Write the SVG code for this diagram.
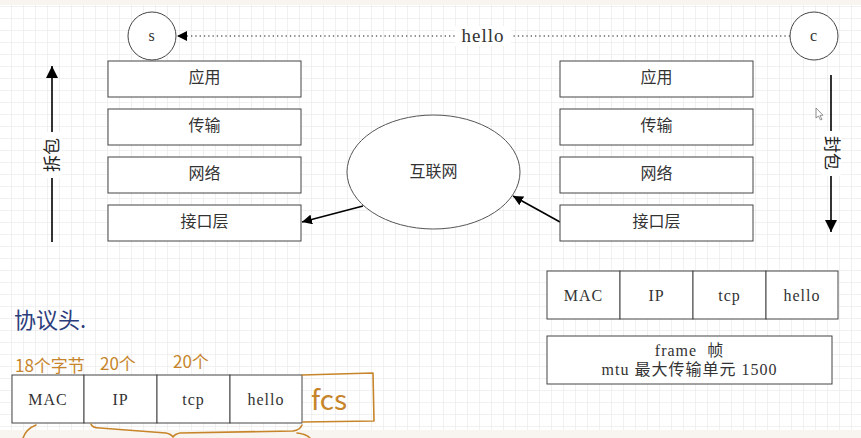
<svg xmlns="http://www.w3.org/2000/svg" width="861" height="438" viewBox="0 0 861 438">
<defs>
  <pattern id="grid" x="11" y="6" width="12" height="12" patternUnits="userSpaceOnUse">
    <path d="M0 0H12M0 0V12" fill="none" stroke="#e3e3e3" stroke-width="1"/>
  </pattern>
  <marker id="arr" viewBox="0 0 10 10" refX="10" refY="5" markerWidth="10" markerHeight="10" markerUnits="userSpaceOnUse" orient="auto">
    <path d="M0 0L10 5L0 10Z" fill="#000"/>
  </marker>
  <marker id="arrBig" viewBox="0 0 10 10" refX="10" refY="5" markerWidth="14" markerHeight="12" markerUnits="userSpaceOnUse" orient="auto">
    <path d="M0 0L10 5L0 10Z" fill="#000"/>
  </marker>
</defs>
<style>
  .box{fill:#fff;stroke:#444;stroke-width:1}
  .t{font-family:"Liberation Serif","Noto Sans CJK SC",serif;font-size:16px;fill:#333;text-anchor:middle;dominant-baseline:central}
  .s{font-family:"Liberation Serif","Noto Sans CJK SC",serif;font-size:16px;fill:#333;text-anchor:middle;dominant-baseline:central;letter-spacing:1px}
  .hand{font-family:"Noto Sans CJK SC",sans-serif;fill:#c7852b}
  .brace{fill:none;stroke:#c7852b;stroke-width:1.6;stroke-linecap:round;stroke-linejoin:round}
  .conn{stroke:#000;stroke-width:1.6;fill:none}
</style>
<rect width="861" height="438" fill="#fff"/>
<rect width="861" height="438" fill="url(#grid)"/>
<rect width="861" height="5" fill="#f8f5f0"/>
<rect y="430" width="861" height="8" fill="#f8f5f0"/>

<g id="connectors">
  <line x1="790" y1="36" x2="177" y2="36" stroke="#666" stroke-width="1.3" stroke-dasharray="1.3 3" marker-end="url(#arr)"/>
  <rect x="455" y="26" width="56" height="20" fill="#fff"/>
  <text class="s" x="483" y="35" style="font-size:19px">hello</text>
  <line class="conn" x1="363" y1="206" x2="302" y2="222" marker-end="url(#arr)"/>
  <line class="conn" x1="560" y1="222" x2="513" y2="196" marker-end="url(#arr)"/>
  <line class="conn" x1="52" y1="242" x2="52" y2="66" marker-end="url(#arrBig)"/>
  <rect x="42" y="132" width="20" height="46" fill="#fff"/>
  <text class="t" transform="translate(52 155) rotate(-90)" style="font-size:17px;fill:#222">拆包</text>
  <line class="conn" x1="831" y1="75" x2="831" y2="232" marker-end="url(#arrBig)"/>
  <rect x="821" y="131" width="20" height="45" fill="#fff"/>
  <text class="t" transform="translate(831 153) rotate(90)" style="font-size:17px;fill:#222">封包</text>
</g>

<g id="node-s"><circle cx="152" cy="36" r="24" class="box"/><text class="s" x="152" y="35">s</text></g>
<g id="node-c"><circle cx="814" cy="36" r="24" class="box"/><text class="s" x="814" y="35">c</text></g>

<g id="s-app"><rect x="108" y="61" width="193" height="36" class="box"/><text class="t" x="204.5" y="77.5">应用</text></g>
<g id="s-trans"><rect x="108" y="109" width="193" height="36" class="box"/><text class="t" x="204.5" y="125.5">传输</text></g>
<g id="s-net"><rect x="108" y="157" width="193" height="36" class="box"/><text class="t" x="204.5" y="173.5">网络</text></g>
<g id="s-if"><rect x="108" y="205" width="193" height="36" class="box"/><text class="t" x="204.5" y="221.5">接口层</text></g>

<g id="c-app"><rect x="560" y="61" width="193" height="36" class="box"/><text class="t" x="656.5" y="77.5">应用</text></g>
<g id="c-trans"><rect x="560" y="109" width="193" height="36" class="box"/><text class="t" x="656.5" y="125.5">传输</text></g>
<g id="c-net"><rect x="560" y="157" width="193" height="36" class="box"/><text class="t" x="656.5" y="173.5">网络</text></g>
<g id="c-if"><rect x="560" y="205" width="193" height="36" class="box"/><text class="t" x="656.5" y="221.5">接口层</text></g>

<g id="internet"><ellipse cx="433.5" cy="172" rx="86.5" ry="57" class="box" style="stroke:#555"/><text class="t" x="433.5" y="171">互联网</text></g>

<g id="pkt-right">
  <rect x="547" y="271" width="73" height="48" class="box"/><text class="s" x="583.5" y="295">MAC</text>
  <rect x="620" y="271" width="73" height="48" class="box"/><text class="s" x="656.5" y="295">IP</text>
  <rect x="693" y="271" width="73" height="48" class="box"/><text class="s" x="729.5" y="295">tcp</text>
  <rect x="766" y="271" width="72" height="48" class="box"/><text class="s" x="802" y="295">hello</text>
</g>

<g id="frame">
  <rect x="547" y="336" width="285" height="48" class="box"/>
  <text class="t" x="689.5" y="350" xml:space="preserve" style="letter-spacing:1px">frame  帧</text>
  <text class="t" x="689.5" y="369" style="letter-spacing:1px">mtu 最大传输单元 1500</text>
</g>

<g id="pkt-left">
  <rect x="12" y="375" width="72" height="48" class="box"/><text class="s" x="48" y="399">MAC</text>
  <rect x="84" y="375" width="73" height="48" class="box"/><text class="s" x="120.5" y="399">IP</text>
  <rect x="157" y="375" width="73" height="48" class="box"/><text class="s" x="193.5" y="399">tcp</text>
  <rect x="230" y="375" width="72" height="48" class="box"/><text class="s" x="266" y="399">hello</text>
</g>

<g id="annotations">
  <text x="14" y="328" style="font-family:'Noto Sans CJK SC',sans-serif;font-size:22px;fill:#2b3c7c">协议头.</text>
  <text class="hand" x="15" y="372" style="font-size:17px">18个字节</text>
  <text class="hand" x="100" y="370" style="font-size:17px">20个</text>
  <text class="hand" x="173" y="368" style="font-size:17px">20个</text>
  <path class="brace" d="M302 375L373 373L374 421L303 422"/>
  <text class="hand" x="311" y="410" style="font-size:28px">fcs</text>
  <path class="brace" d="M36 425Q26 429 23 438"/>
  <path class="brace" d="M91 424Q92 428 100 428L166 433Q171 434 173 437Q175 434 180 433L293 431Q300 430 302 425"/>
  <path class="brace" d="M297 433Q306 434 310 438"/>
</g>

<g id="cursor"><path d="M816 108L816 118L818.5 116L820.5 120L822 119.3L820 115.4L823 115.2Z" fill="#fff" stroke="#777" stroke-width="0.8"/></g>
</svg>
